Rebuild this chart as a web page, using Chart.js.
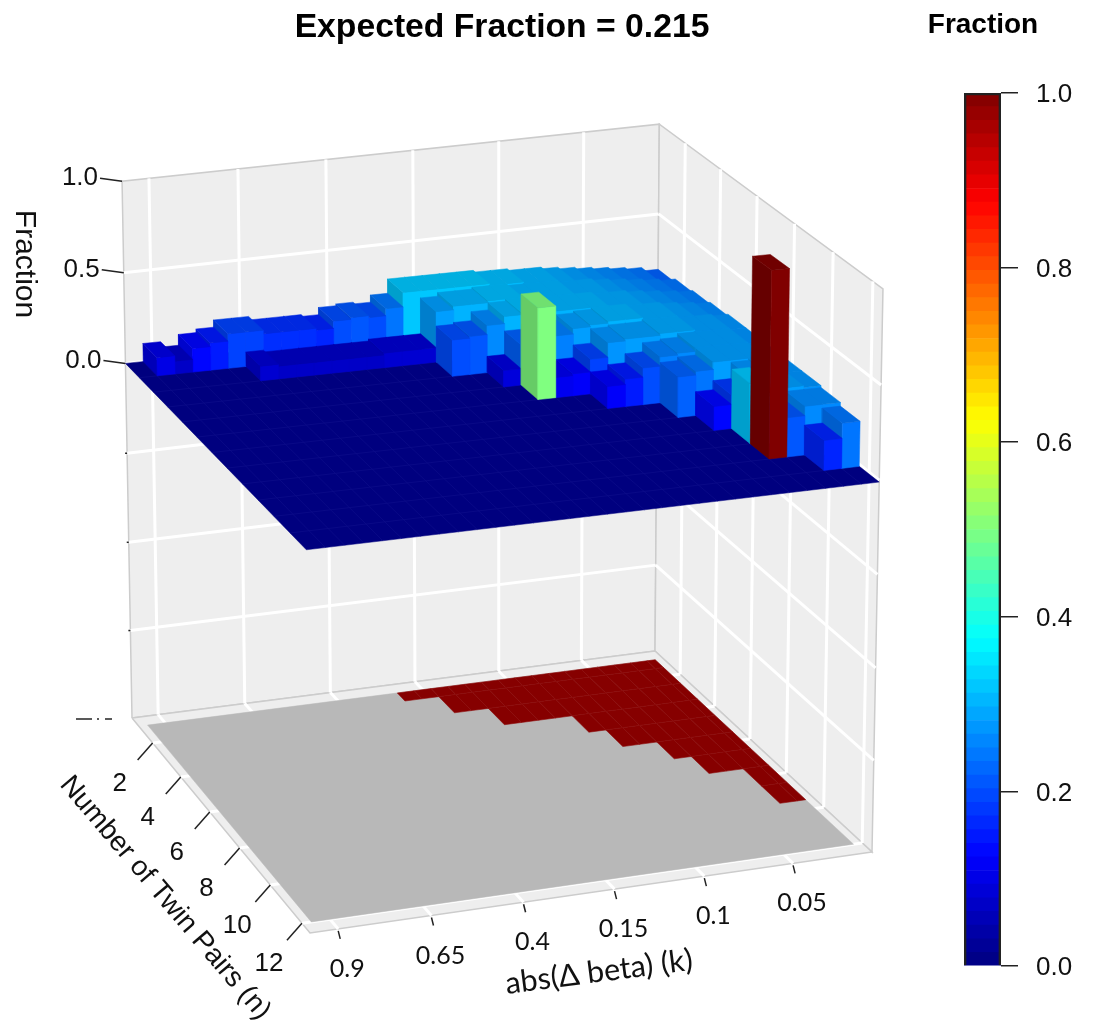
<!DOCTYPE html>
<html>
<head>
<meta charset="utf-8">
<style>
  html, body { margin: 0; padding: 0; background: #fff; }
  #plot { position: absolute; left: 0; top: 0; width: 1004px; height: 1032px; }
  #bar { position: absolute; left: 873px; top: 0; width: 220px; height: 1032px; }
</style>
<script src="https://cdn.jsdelivr.net/npm/chart.js@4"></script>
</head>
<body>
<div id="plot"><canvas id="plotCanvas"></canvas></div>
<div id="bar"><canvas id="barCanvas"></canvas></div>
<script>
/* DATA */
const nLabels = ["2", "4", "6", "8", "10", "12"];
const nTickRows = [1, 3, 5, 7, 9, 11];
const kLabels = ["0.9", "0.65", "0.4", "0.15", "0.1", "0.05"];
const kTickCols = [1, 6, 11, 16, 21, 26];
const zTicks = [-2, -1.5, -1, -0.5, 0, 0.5, 1];
const zLabels = ["0.0", "0.5", "1.0"];
const colorbarTicks = [0, 0.2, 0.4, 0.6, 0.8, 1];
// first k column of the significant (red) region for n = 1..9
const redFrom = [15, 17, 19, 23, 24, 26, 27, 29, 29];

const fractionN1  = [0,.10,.07,.13,.15,.19,.19,.17,.17,.17,.16,.20,.21,.20,.24,.32,.32,.32,.32,.32,.31,.31,.30,.30,.29,.28,.27,.26,.25,.24,.22];
const fractionN2  = [0,0,0,0,0,0,.08,.07,.07,.07,.07,.07,.07,.08,.08,.08,.28,.30,.30,.31,.31,.30,.30,.30,.29,.29,.28,.27,.26,.25,.24];
const fractionN3  = [0,0,0,0,0,0,0,0,0,0,0,0,0,0,0,0,.20,.21,.26,.30,.31,.30,.30,.30,.30,.29,.29,.28,.27,.26,.25];
const fractionN4  = [0,0,0,0,0,0,0,0,0,0,0,0,0,0,0,0,0,0,.09,.22,.25,.25,.28,.29,.30,.30,.29,.29,.28,.27,.26];
const fractionN5  = [0,0,0,0,0,0,0,0,0,0,0,0,0,0,0,0,0,0,0,.50,.11,.12,.19,.27,.28,.28,.29,.29,.28,.28,.27];
const fractionN6  = [0,0,0,0,0,0,0,0,0,0,0,0,0,0,0,0,0,0,0,0,0,0,.12,.15,.20,.25,.26,.28,.28,.28,.27];
const fractionN7  = [0,0,0,0,0,0,0,0,0,0,0,0,0,0,0,0,0,0,0,0,0,0,0,0,0,.22,.24,.28,.28,.28,.27];
const fractionN8  = [0,0,0,0,0,0,0,0,0,0,0,0,0,0,0,0,0,0,0,0,0,0,0,0,0,0,.13,.18,.27,.28,.27];
const fractionN9  = [0,0,0,0,0,0,0,0,0,0,0,0,0,0,0,0,0,0,0,0,0,0,0,0,0,0,0,.32,.27,.28,.27];
const fractionN10 = [0,0,0,0,0,0,0,0,0,0,0,0,0,0,0,0,0,0,0,0,0,0,0,0,0,0,0,1,.21,.26,.26];
const fractionN11 = [0,0,0,0,0,0,0,0,0,0,0,0,0,0,0,0,0,0,0,0,0,0,0,0,0,0,0,0,0,.16,.24];
const fractionN12 = [0,0,0,0,0,0,0,0,0,0,0,0,0,0,0,0,0,0,0,0,0,0,0,0,0,0,0,0,0,0,0];
const fractions = [fractionN1, fractionN2, fractionN3, fractionN4, fractionN5, fractionN6,
  fractionN7, fractionN8, fractionN9, fractionN10, fractionN11, fractionN12];

const COLS = 31, ROWS = 12;

/* projection: floor quad + vertical vanishing point */
const floorQuad = [[132, 718], [655, 651], [872, 852], [310, 933]];
const V = [494, 20240], Q = -0.00892;

function homography(p0, p1, p2, p3) {
  const dx1 = p1[0]-p2[0], dx2 = p3[0]-p2[0], dx3 = p0[0]-p1[0]+p2[0]-p3[0];
  const dy1 = p1[1]-p2[1], dy2 = p3[1]-p2[1], dy3 = p0[1]-p1[1]+p2[1]-p3[1];
  const d = dx1*dy2-dx2*dy1;
  const g = (dx3*dy2-dx2*dy3)/d, h = (dx1*dy3-dx3*dy1)/d;
  return { a: p1[0]-p0[0]+g*p1[0], b: p3[0]-p0[0]+h*p3[0], c: p0[0],
           d: p1[1]-p0[1]+g*p1[1], e: p3[1]-p0[1]+h*p3[1], f: p0[1], g, h };
}
const H = homography(...floorQuad);

function project(u, v, z) {
  const s = Q*(z+2);
  const W = H.g*u+H.h*v+1+s;
  return { x: (H.a*u+H.b*v+H.c+s*V[0])/W, y: (H.d*u+H.e*v+H.f+s*V[1])/W };
}
// walls sit a little taller towards the back corner
const wall = (u, v, z) => project(u, v, z+(z+2)/3*u*(0.042*(1-v)+0.015*v));
const cellPoint = (c, r, z) => project(c/COLS, r/ROWS, z);

function jet(t, shade) {
  const f = o => Math.round(255*shade*Math.min(1, Math.max(0, 1.5-Math.abs(4*t-o))));
  return `rgb(${f(3)},${f(2)},${f(1)})`;
}

const datasets = [];
function poly(points, fillColor, lineColor, lineWidth) {
  datasets.push({
    data: fillColor ? points.concat([points[0]]) : points,
    showLine: true, pointRadius: 0, tension: 0,
    fill: fillColor ? "shape" : false,
    backgroundColor: fillColor || "transparent",
    borderColor: lineColor || fillColor,
    borderWidth: lineWidth === undefined ? 0.5 : lineWidth,
    order: -datasets.length
  });
}

/* WALLS */
poly([wall(0,0,-2), wall(1,0,-2), wall(1,0,1), wall(0,0,1)], "#eeeeee", "#cccccc", 1.5);
poly([wall(1,0,-2), wall(1,1,-2), wall(1,1,1), wall(1,0,1)], "#eeeeee", "#cccccc", 1.5);
poly([wall(0,0,-2), wall(1,0,-2), wall(1,1,-2), wall(0,1,-2)], "#eeeeee", "#cccccc", 1.5);
zTicks.slice(1, -1).forEach(z => {
  poly([wall(0,0,z), wall(1,0,z)], null, "#ffffff", 3);
  poly([wall(1,0,z), wall(1,1,z)], null, "#ffffff", 3);
});
kTickCols.forEach(c => {
  const u = (c+0.5)/COLS;
  poly([wall(u,0,-2), wall(u,0,1)], null, "#ffffff", 3);
  poly([wall(u,0,-2), wall(u,1,-2)], null, "#ffffff", 3);
});
nTickRows.forEach(r => {
  const v = (r+0.5)/ROWS;
  poly([wall(1,v,-2), wall(1,v,1)], null, "#ffffff", 3);
  poly([wall(0,v,-2), wall(1,v,-2)], null, "#ffffff", 3);
});

/* FLOOR MAP (surface runs between cell centres, so the edge cells are halved) */
const floorU = c => Math.min(1-0.5/COLS, Math.max(0.5/COLS, c/COLS));
const floorV = r => Math.min(1-0.5/ROWS, Math.max(0.5/ROWS, r/ROWS));
const floorCell = (c0, r0, c1, r1) =>
  [[c0,r0],[c1,r0],[c1,r1],[c0,r1]].map(p => project(floorU(p[0]), floorV(p[1]), -2));
poly(floorCell(0, 0, COLS, ROWS), "#b8b8b8");
redFrom.forEach((start, r) => {
  for (let c = start; c < COLS; c++) poly(floorCell(c, r, c+1, r+1), "#860000", "#8f0c0c", 0.6);
});

/* TICKS */
const INK = "#222222";
nTickRows.forEach(r => {
  const p = project(0, (r+0.5)/ROWS, -2);
  poly([p, {x: p.x-15, y: p.y+17}], null, INK, 1.5);
});
kTickCols.forEach(c => {
  const p = project((c+0.5)/COLS, 1, -2);
  poly([{x: p.x, y: p.y+2}, {x: p.x+2, y: p.y+10}], null, INK, 1.5);
});
zTicks.forEach(z => {
  const p = project(0, 0, z);
  if (z >= 0) poly([p, {x: p.x-22, y: p.y-3}], null, INK, 1.5);
  else if (z > -2) poly([p, {x: p.x-2, y: p.y}], null, INK, 1.5);
});
{
  const p = project(0, 0, -2);
  poly([{x: p.x-56, y: p.y+1}, {x: p.x-40, y: p.y+1}], null, INK, 1.5);
  poly([{x: p.x-35, y: p.y+1}, {x: p.x-33, y: p.y+1}], null, INK, 1.5);
  poly([{x: p.x-27, y: p.y+1}, {x: p.x-20, y: p.y+1}], null, INK, 1.5);
}

/* Z = 0 PLANE */
poly([cellPoint(0,0,0), cellPoint(COLS,0,0), cellPoint(COLS,ROWS,0), cellPoint(0,ROWS,0)], "#00007f");
for (let r = 1; r < ROWS; r++) poly([cellPoint(0,r,0), cellPoint(COLS,r,0)], null, "#0d0d8a", 0.7);
for (let c = 1; c < COLS; c++) poly([cellPoint(c,0,0), cellPoint(c,ROWS,0)], null, "#0d0d8a", 0.7);

/* BARS: back row first, and right to left inside a row */
fractions.forEach((row, r) => {
  for (let c = COLS-1; c >= 0; c--) {
    const z = row[c];
    if (!z) continue;
    poly([cellPoint(c,r,0), cellPoint(c,r+1,0), cellPoint(c,r+1,z), cellPoint(c,r,z)], jet(z, 0.8));
    poly([cellPoint(c,r+1,0), cellPoint(c+1,r+1,0), cellPoint(c+1,r+1,z), cellPoint(c,r+1,z)], jet(z, 1));
    poly([cellPoint(c,r,z), cellPoint(c+1,r,z), cellPoint(c+1,r+1,z), cellPoint(c,r+1,z)], jet(z, 0.88));
  }
});

/* TEXT */
const SANS = "Arial, 'Liberation Sans', sans-serif";
const textPlugin = {
  id: "axisText",
  afterDraw(chart) {
    const { ctx, scales: { x, y } } = chart;
    const put = (text, px, py, font, align, angle) => {
      ctx.save();
      ctx.translate(x.getPixelForValue(px), y.getPixelForValue(py));
      ctx.rotate((angle || 0)*Math.PI/180);
      ctx.font = font;
      ctx.fillStyle = "#111111";
      ctx.textAlign = align || "center";
      ctx.textBaseline = "middle";
      ctx.fillText(text, 0, 0);
      ctx.restore();
    };
    nTickRows.forEach((r, i) => {
      const p = project(0, (r+0.5)/ROWS, -2);
      put(nLabels[i], p.x-33, p.y+41, `26px ${SANS}`);
    });
    kTickCols.forEach((c, i) => {
      const p = project((c+0.5)/COLS, 1, -2);
      put(kLabels[i], p.x+9, p.y+40, "25px Lato");
    });
    [0, 0.5, 1].forEach((z, i) => {
      const p = project(0, 0, z);
      put(zLabels[i], p.x-24, p.y-3, `26px ${SANS}`, "right");
    });
    put("Fraction", 24, 264, `30px ${SANS}`, "center", 90);
    put("Number of Twin Pairs (n)", 165, 898, `28px ${SANS}`, "center", 49.7);
    put("abs(Δ beta) (k)", 599, 972, "30.5px Lato", "center", -7.4);
  }
};

new Chart(document.getElementById("plotCanvas"), {
  type: "scatter",
  data: { datasets },
  plugins: [textPlugin],
  options: {
    responsive: true, maintainAspectRatio: false, animation: false,
    layout: { padding: 0 },
    plugins: {
      legend: { display: false }, tooltip: { enabled: false },
      title: { display: true, text: "Expected Fraction = 0.215", color: "#000",
        font: { family: SANS, size: 33.7, weight: "bold" }, padding: { top: 7, bottom: 12.56 } }
    },
    scales: {
      x: { type: "linear", min: 0, max: 1004, display: false },
      y: { type: "linear", min: 60, max: 1032, reverse: true, display: false }
    }
  }
});

/* COLORBAR */
const BANDS = 64;
const bandDatasets = [];
for (let i = 0; i < BANDS; i++) {
  bandDatasets.push({ data: [1/BANDS], stack: "bands", backgroundColor: jet((i+0.5)/BANDS, 1),
    borderWidth: 0, barPercentage: 1, categoryPercentage: 1, order: 1 });
}
bandDatasets.push({ data: [1], stack: "frame", grouped: false, backgroundColor: "transparent",
  borderColor: "#222222", borderWidth: 2, barPercentage: 1, categoryPercentage: 1, order: 0 });

const barHeading = {
  id: "barHeading",
  afterDraw(chart) {
    const ctx = chart.ctx;
    ctx.save();
    ctx.font = `bold 28px ${SANS}`;
    ctx.fillStyle = "#000";
    ctx.textAlign = "center";
    ctx.textBaseline = "middle";
    ctx.fillText("Fraction", 110, 25);
    ctx.restore();
  }
};

new Chart(document.getElementById("barCanvas"), {
  type: "bar",
  data: { labels: [""], datasets: bandDatasets },
  plugins: [barHeading],
  options: {
    responsive: true, maintainAspectRatio: false, animation: false,
    layout: { padding: { left: 91, top: 93, bottom: 66, right: 0 } },
    plugins: { legend: { display: false }, tooltip: { enabled: false } },
    scales: {
      x: { stacked: true, display: false },
      y: {
        stacked: true, position: "right", min: 0, max: 1,
        afterBuildTicks(scale) { scale.ticks = colorbarTicks.map(value => ({ value })); },
        afterFit(scale) { scale.width = 92; },
        border: { display: false },
        grid: { drawOnChartArea: false, drawTicks: true, tickLength: 17, color: "#222222", lineWidth: 1.5 },
        ticks: { padding: 18, labelOffset: 2, color: "#111111", font: { family: SANS, size: 26 }, callback: v => v.toFixed(1) }
      }
    }
  }
});
</script>
</body>
</html>
